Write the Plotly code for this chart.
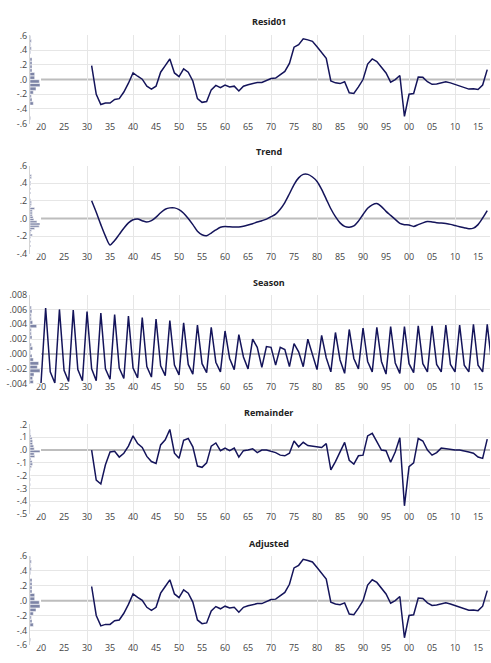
import numpy as np
import plotly.graph_objects as go

# ---------------- data ----------------
years = list(range(1931, 2018))
season_years = list(range(1920, 2019))

resid01 = [0.19, -0.20, -0.34, -0.32, -0.32, -0.27, -0.26, -0.17, -0.05, 0.09,
           0.045, 0.005, -0.09, -0.13, -0.09, 0.10, 0.19, 0.28, 0.09, 0.04,
           0.145, 0.10, -0.02, -0.26, -0.31, -0.30, -0.14, -0.08, -0.11, -0.075,
           -0.10, -0.09, -0.155, -0.09, -0.07, -0.05, -0.04, -0.04, -0.015, 0.015,
           0.02, 0.06, 0.11, 0.22, 0.44, 0.475, 0.555, 0.54, 0.52, 0.445,
           0.37, 0.29, -0.02, -0.045, -0.055, -0.03, -0.18, -0.19, -0.10, 0.0,
           0.21, 0.28, 0.245, 0.165, 0.09, -0.035, 0.0, 0.055, -0.50, -0.20,
           -0.19, 0.035, 0.03, -0.03, -0.065, -0.06, -0.04, -0.03, -0.045, -0.065,
           -0.08, -0.10, -0.13, -0.125, -0.135, -0.075, 0.135]

trend = [0.20, 0.07, -0.07, -0.20, -0.30, -0.25, -0.18, -0.11, -0.05, -0.015,
         -0.005, -0.025, -0.04, -0.025, 0.015, 0.065, 0.105, 0.12, 0.12, 0.10,
         0.06, 0.0, -0.07, -0.145, -0.185, -0.195, -0.165, -0.13, -0.10, -0.09,
         -0.095, -0.098, -0.097, -0.088, -0.075, -0.06, -0.04, -0.025, -0.008, 0.02,
         0.05, 0.105, 0.18, 0.28, 0.385, 0.46, 0.50, 0.50, 0.47, 0.42,
         0.33, 0.22, 0.11, 0.02, -0.05, -0.09, -0.10, -0.085, -0.03, 0.045,
         0.115, 0.155, 0.17, 0.135, 0.08, 0.035, -0.01, -0.055, -0.07, -0.075,
         -0.09, -0.07, -0.05, -0.035, -0.04, -0.048, -0.052, -0.058, -0.067, -0.08,
         -0.093, -0.105, -0.117, -0.11, -0.07, 0.005, 0.09]

season = [-0.0039,
          0.0062, -0.0024, -0.0039,
          0.0060, -0.0022, -0.0037,
          0.0059, -0.0021, -0.0036,
          0.0057, -0.0020, -0.0036,
          0.0055, -0.0020, -0.0034,
          0.0053, -0.0019, -0.0033,
          0.0051, -0.0019, -0.0032,
          0.0049, -0.0017, -0.0031,
          0.0047, -0.0016, -0.0029,
          0.0045, -0.0015, -0.0028,
          0.0042, -0.0014, -0.0027,
          0.0039, -0.0013, -0.0025,
          0.0036, -0.0011, -0.0024,
          0.0031, -0.0006, -0.0021,
          0.0026, -0.0004, -0.0020,
          0.0020, 0.0009, -0.0018,
          0.0010, 0.0009, -0.0015,
          0.0009, 0.0006, -0.0017,
          0.0014, 0.0003, -0.0017,
          0.0020, -0.0002, -0.0021,
          0.0025, -0.0005, -0.0024,
          0.0029, -0.0008, -0.0026,
          0.0033, -0.0006, -0.0020,
          0.0035, -0.0010, -0.0024,
          0.0036, -0.0010, -0.0027,
          0.0037, -0.0012, -0.0026,
          0.0037, -0.0013, -0.0025,
          0.0038, -0.0013, -0.0024,
          0.0038, -0.0014, -0.0024,
          0.0039, -0.0014, -0.0024,
          0.0039, -0.0015, -0.0024,
          0.0040, -0.0015, -0.0024,
          0.0040, -0.0015]

remainder = [0.0, -0.235, -0.265, -0.115, -0.015, -0.01, -0.055, -0.025, 0.03, 0.11,
             0.05, 0.02, -0.05, -0.09, -0.105, 0.04, 0.08, 0.16, -0.025, -0.065,
             0.075, 0.09, 0.025, -0.125, -0.135, -0.10, 0.03, 0.055, -0.005, 0.015,
             -0.005, 0.015, -0.055, -0.005, 0.0, 0.01, -0.02, 0.0, 0.0, -0.01,
             -0.02, -0.04, -0.045, -0.025, 0.07, 0.025, 0.06, 0.035, 0.03, 0.02,
             0.02, 0.05, -0.155, -0.09, -0.02, 0.06, -0.08, -0.11, -0.045, -0.04,
             0.11, 0.13, 0.065, 0.0, -0.005, -0.095, -0.015, 0.095, -0.435, -0.13,
             -0.10, 0.09, 0.07, 0.0, -0.04, -0.02, 0.015, 0.01, 0.0, 0.0,
             0.0, -0.005, -0.015, -0.025, -0.055, -0.065, 0.085]

adjusted = [0.19, -0.20, -0.34, -0.32, -0.32, -0.27, -0.26, -0.17, -0.05, 0.09,
            0.045, 0.005, -0.09, -0.13, -0.09, 0.10, 0.19, 0.28, 0.09, 0.04,
            0.145, 0.10, -0.02, -0.26, -0.31, -0.30, -0.14, -0.08, -0.11, -0.075,
            -0.10, -0.09, -0.155, -0.09, -0.07, -0.05, -0.04, -0.04, -0.015, 0.015,
            0.02, 0.06, 0.11, 0.22, 0.44, 0.475, 0.555, 0.54, 0.52, 0.445,
            0.37, 0.29, -0.02, -0.045, -0.055, -0.03, -0.18, -0.19, -0.10, 0.0,
            0.21, 0.28, 0.245, 0.165, 0.09, -0.035, 0.0, 0.055, -0.50, -0.20,
            -0.19, 0.035, 0.03, -0.03, -0.065, -0.06, -0.04, -0.03, -0.045, -0.065,
            -0.08, -0.10, -0.13, -0.125, -0.135, -0.075, 0.135]

titles = ["Resid01", "Trend", "Season", "Remainder", "Adjusted"]

x_tickvals = list(range(1920, 2016, 5))
x_ticktext = ["20", "25", "30", "35", "40", "45", "50", "55", "60", "65", "70", "75",
              "80", "85", "90", "95", "00", "05", "10", "15"]
x_gridvals = list(range(1930, 2011, 10))

y1_ticks = [0.6, 0.4, 0.2, 0.0, -0.2, -0.4, -0.6]
y1_text = [".6", ".4", ".2", ".0", "-.2", "-.4", "-.6"]
y2_ticks = [0.6, 0.4, 0.2, 0.0, -0.2, -0.4]
y2_text = [".6", ".4", ".2", ".0", "-.2", "-.4"]
y3_ticks = [0.008, 0.006, 0.004, 0.002, 0.0, -0.002, -0.004]
y3_text = [".008", ".006", ".004", ".002", ".000", "-.002", "-.004"]
y4_ticks = [0.2, 0.1, 0.0, -0.1, -0.2, -0.3, -0.4, -0.5]
y4_text = [".2", ".1", ".0", "-.1", "-.2", "-.3", "-.4", "-.5"]
y5_ticks = y1_ticks
y5_text = y1_text

hist_binwidths = [0.05, 0.025, 0.0005, 0.02, 0.05]
smooth_line = [False, True, False, False, False]

# ---------------- layout helpers ----------------
W, H = 491, 663
ML, MR = 30, 1
X_RANGE = [1917.6, 2017.6]
panel_px = [(29, 119), (161.7, 251.7), (293.3, 384.3), (425.7, 517.3), (560, 651)]
title_px = [15, 147.3, 280.7, 414, 547]

LINE_COLOR = "#14145a"
HIST_COLOR = "#7d84a6"
GRID_COLOR = "#e6e6e6"
ZERO_COLOR = "#bdbdbd"
TICK_FONT = dict(family="Open Sans, Noto Sans, sans-serif", size=9, color="#444444")

panels = [
    (years, resid01, y1_ticks, y1_text),
    (years, trend, y2_ticks, y2_text),
    (season_years, season, y3_ticks, y3_text),
    (years, remainder, y4_ticks, y4_text),
    (years, adjusted, y5_ticks, y5_text),
]

fig = go.Figure()
layout = dict(
    width=W, height=H,
    margin=dict(l=ML, r=MR, t=0, b=0),
    paper_bgcolor="white", plot_bgcolor="white",
    showlegend=False,
    annotations=[], shapes=[],
)

hist_frac = 10.0 / (W - ML - MR)

for i, (xs, ys, ticks, ttext) in enumerate(panels):
    n = i + 1
    xa = "x" if n == 1 else f"x{n}"
    ya = "y" if n == 1 else f"y{n}"
    hx = f"x{n + 5}"
    lo, hi = min(ticks), max(ticks)
    span = hi - lo
    top_px, bot_px = panel_px[i]

    # histogram of values (axis border histogram)
    bw = hist_binwidths[i]
    edges = np.arange(lo, hi + bw * 0.5, bw)
    counts, edges = np.histogram(ys, bins=edges)
    centers = (edges[:-1] + edges[1:]) / 2
    fig.add_trace(go.Bar(
        x=counts, y=centers, orientation="h", base=0,
        width=bw * 0.9,
        marker=dict(color=HIST_COLOR, line=dict(color="white", width=0.5)),
        xaxis=hx, yaxis=ya, hoverinfo="skip",
    ))

    # the series line
    line_style = dict(color=LINE_COLOR, width=1.5)
    if smooth_line[i]:
        line_style.update(shape="spline", smoothing=0.8)
    fig.add_trace(go.Scatter(
        x=xs, y=ys, mode="lines", line=line_style,
        xaxis=xa, yaxis=ya, hoverinfo="skip",
    ))

    interior = [t for t in ticks if t not in (lo, hi) and abs(t) > 1e-12]

    layout[f"xaxis{'' if n == 1 else n}"] = dict(
        domain=[0, 1], range=X_RANGE, anchor=ya,
        tickmode="array", tickvals=x_tickvals, ticktext=x_ticktext,
        tickfont=TICK_FONT, ticks="", showgrid=False, zeroline=False,
        showline=False, fixedrange=True, ticklabelstandoff=-4,
        minor=dict(tickmode="array", tickvals=x_gridvals, showgrid=True,
                   gridcolor=GRID_COLOR, gridwidth=1, ticks=""),
    )
    layout[f"yaxis{'' if n == 1 else n}"] = dict(
        domain=[1 - bot_px / H, 1 - top_px / H],
        range=[lo - span * 1e-4, hi + span * 1e-4], anchor=xa,
        tickmode="array", tickvals=ticks, ticktext=ttext,
        tickfont=TICK_FONT, ticks="", showgrid=False, zeroline=False,
        showline=True, linecolor="#d4d4d4", linewidth=1,
        fixedrange=True,
        minor=dict(tickmode="array", tickvals=interior, showgrid=True,
                   gridcolor=GRID_COLOR, gridwidth=1, ticks=""),
    )
    layout[f"xaxis{n + 5}"] = dict(
        domain=[0, hist_frac], range=[0, max(counts)], anchor=ya,
        visible=False, fixedrange=True,
    )

    layout["shapes"].append(dict(
        type="line", xref=xa, yref=ya, x0=1920, x1=X_RANGE[1], y0=0, y1=0,
        line=dict(color=ZERO_COLOR, width=2), layer="below",
    ))

    layout["annotations"].append(dict(
        text=f"<b>{titles[i]}</b>", xref="paper", yref="paper",
        x=(268.5 - ML) / (W - ML - MR), y=1 - title_px[i] / H,
        xanchor="center", yanchor="middle", showarrow=False,
        font=dict(family="Open Sans, Noto Sans, sans-serif", size=9, color="#222222"),
    ))

fig.update_layout(**layout)
fig.write_html("out.html", config={"displayModeBar": False},
               post_script="document.body.style.margin='0';document.body.style.overflow='hidden';")
